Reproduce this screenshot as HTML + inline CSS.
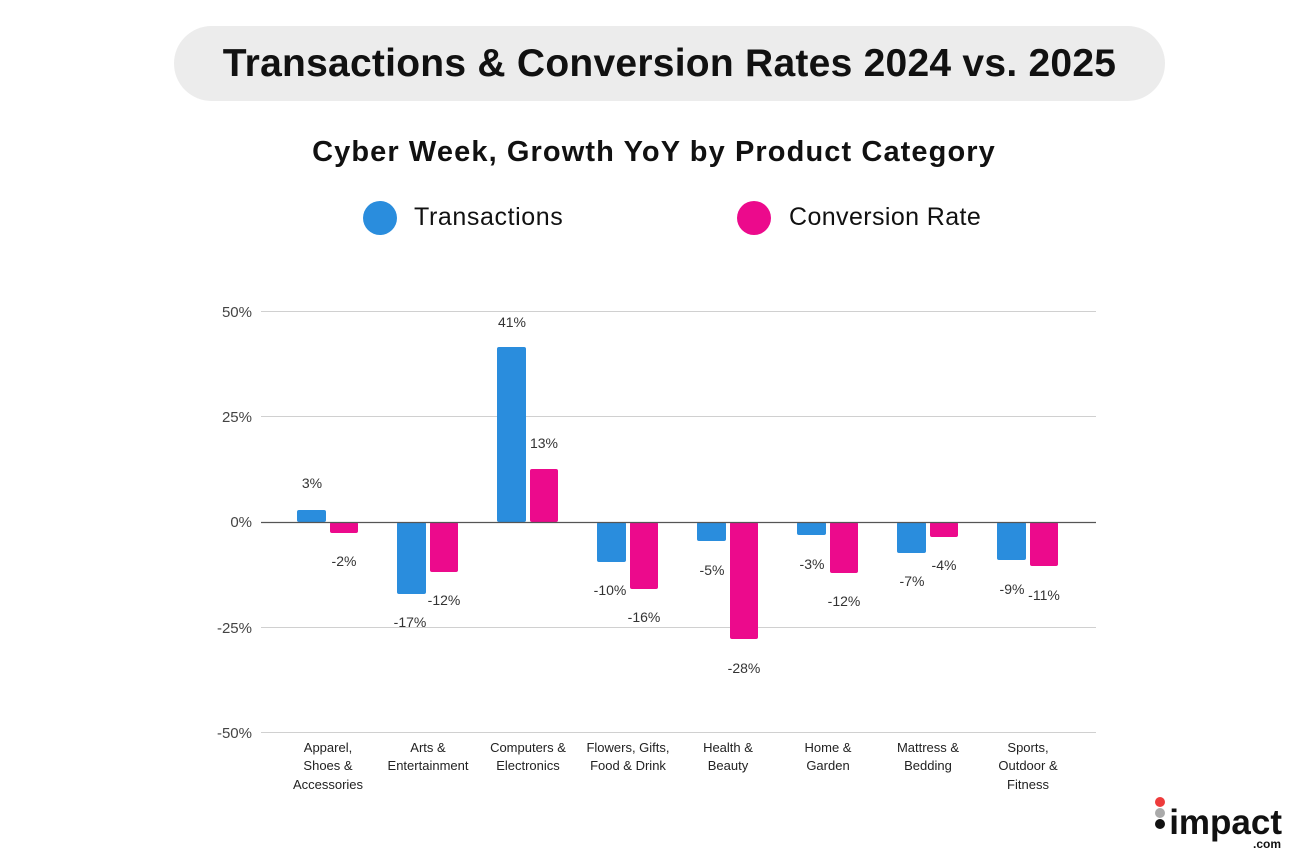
<!DOCTYPE html>
<html><head><meta charset="utf-8"><style>
body{margin:0;width:1308px;height:868px;background:#fff;position:relative;overflow:hidden;font-family:"Liberation Sans",sans-serif}
.a{position:absolute}
</style></head><body>
<div class="a" style="left:174px;top:26px;width:991px;height:75px;border-radius:38px;background:#ececec;"></div>
<div class="a" style="left:174px;top:26px;width:991px;height:75px;line-height:75px;text-align:center;font-size:39px;font-weight:bold;color:#111;letter-spacing:0.25px;">Transactions &amp; Conversion Rates 2024 vs. 2025</div>
<div class="a" style="left:0;width:1308px;top:136px;text-align:center;font-size:29px;font-weight:bold;color:#111;letter-spacing:1.1px;">Cyber Week, Growth YoY by Product Category</div>
<div class="a" style="left:363px;top:201px;width:34px;height:34px;border-radius:50%;background:#2a8ddd"></div>
<div class="a" style="left:414px;top:203px;font-size:25px;color:#111;letter-spacing:0.6px">Transactions</div>
<div class="a" style="left:737px;top:201px;width:34px;height:34px;border-radius:50%;background:#ec0a8c"></div>
<div class="a" style="left:789px;top:203px;font-size:25px;color:#111;letter-spacing:0.4px">Conversion Rate</div>
<svg class="a" style="left:0;top:0" width="1308" height="868" font-family="Liberation Sans, sans-serif">
<g stroke="#d0d0d0" stroke-width="1">
<line x1="261" x2="1096" y1="311.5" y2="311.5"/><line x1="261" x2="1096" y1="416.5" y2="416.5"/><line x1="261" x2="1096" y1="627.5" y2="627.5"/><line x1="261" x2="1096" y1="732.5" y2="732.5"/>
</g>
<g font-size="15" fill="#444" text-anchor="end">
<text x="252" y="317">50%</text><text x="252" y="422">25%</text><text x="252" y="527">0%</text><text x="252" y="633">-25%</text><text x="252" y="738">-50%</text>
</g>
<g fill="#2a8ddd">
<rect x="297" y="510" width="29" height="12" rx="2"/>
<rect x="397" y="522" width="29" height="72" rx="2"/>
<rect x="497" y="347" width="29" height="175" rx="2"/>
<rect x="597" y="522" width="29" height="40" rx="2"/>
<rect x="697" y="522" width="29" height="19" rx="2"/>
<rect x="797" y="522" width="29" height="13" rx="2"/>
<rect x="897" y="522" width="29" height="31" rx="2"/>
<rect x="997" y="522" width="29" height="38" rx="2"/>
</g>
<g fill="#ec0a8c">
<rect x="330" y="522" width="28" height="11" rx="2"/>
<rect x="430" y="522" width="28" height="50" rx="2"/>
<rect x="530" y="469" width="28" height="53" rx="2"/>
<rect x="630" y="522" width="28" height="67" rx="2"/>
<rect x="730" y="522" width="28" height="117" rx="2"/>
<rect x="830" y="522" width="28" height="51" rx="2"/>
<rect x="930" y="522" width="28" height="15" rx="2"/>
<rect x="1030" y="522" width="28" height="44" rx="2"/>
</g>
<line x1="261" x2="1096" y1="522.5" y2="522.5" stroke="#555" stroke-width="1.3"/>
<g font-size="14" fill="#333" text-anchor="middle">
<text x="312" y="488">3%</text><text x="344" y="566">-2%</text>
<text x="410" y="627">-17%</text><text x="444" y="605">-12%</text>
<text x="512" y="327">41%</text><text x="544" y="448">13%</text>
<text x="610" y="595">-10%</text><text x="644" y="622">-16%</text>
<text x="712" y="575">-5%</text><text x="744" y="673">-28%</text>
<text x="812" y="569">-3%</text><text x="844" y="606">-12%</text>
<text x="912" y="586">-7%</text><text x="944" y="570">-4%</text>
<text x="1012" y="594">-9%</text><text x="1044" y="600">-11%</text>
</g>
<g font-size="13" fill="#222" text-anchor="middle">
<text x="328" y="752">Apparel,</text><text x="328" y="770">Shoes &amp;</text><text x="328" y="789">Accessories</text>
<text x="428" y="752">Arts &amp;</text><text x="428" y="770">Entertainment</text>
<text x="528" y="752">Computers &amp;</text><text x="528" y="770">Electronics</text>
<text x="628" y="752">Flowers, Gifts,</text><text x="628" y="770">Food &amp; Drink</text>
<text x="728" y="752">Health &amp;</text><text x="728" y="770">Beauty</text>
<text x="828" y="752">Home &amp;</text><text x="828" y="770">Garden</text>
<text x="928" y="752">Mattress &amp;</text><text x="928" y="770">Bedding</text>
<text x="1028" y="752">Sports,</text><text x="1028" y="770">Outdoor &amp;</text><text x="1028" y="789">Fitness</text>
</g>
<circle cx="1160" cy="802" r="5" fill="#ee3b3b"/>
<circle cx="1160" cy="813" r="5" fill="#aaa"/>
<circle cx="1160" cy="824" r="5" fill="#111"/>
<text x="1282" y="834" font-size="35" font-weight="bold" fill="#111" text-anchor="end">impact</text>
<text x="1281" y="848" font-size="12" font-weight="bold" fill="#111" text-anchor="end">.com</text>
</svg>
</body></html>
